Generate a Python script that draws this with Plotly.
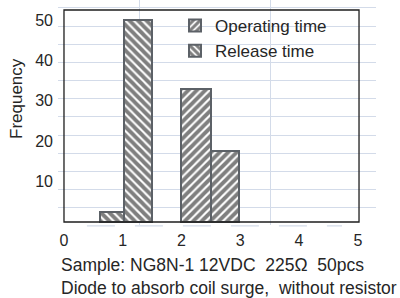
import plotly.graph_objects as go

# ---- data ----
release_x = [0.82, 1.26]          # bin centres (ms)
release_freq = [2.5, 50]
operating_x = [2.24, 2.74]
operating_freq = [33, 17.5]
x_ticks = [0, 1, 2, 3, 4, 5]
y_ticks = [10, 20, 30, 40, 50]
y_title = "Frequency"
note_lines = ["Sample: NG8N-1 12VDC\u00a0 225\u03a9\u00a0 50pcs",
              "Diode to absorb coil surge,\u00a0 without resistor"]

FONT = "Liberation Sans, Arial, sans-serif"
GRID = "#d3dbe9"
EDGE = "#5c6167"
TXT = "#262626"

PH = 225.0  # plot height in px (for paper-coordinate conversions)
PW = 318.0

def px_x(p):
    return (p - 58) / PW

def px_y(p):
    return 1 - p / PH

fig = go.Figure()
fig.add_trace(go.Bar(
    x=operating_x, y=operating_freq, width=[0.51, 0.49], name="Operating time",
    marker=dict(color="white", line=dict(color=EDGE, width=2),
                pattern=dict(shape="/", fgcolor="black", bgcolor="white",
                             size=6, solidity=0.64, fillmode="overlay")),
))
fig.add_trace(go.Bar(
    x=release_x, y=release_freq, width=[0.41, 0.48], name="Release time",
    marker=dict(color="white", line=dict(color=EDGE, width=2),
                pattern=dict(shape="\\", fgcolor="black", bgcolor="white",
                             size=6, solidity=0.64, fillmode="overlay")),
))

# white area behind the legend (hides the grid there, like the original)
fig.add_shape(type="rect", xref="paper", yref="paper",
              x0=px_x(190), x1=px_x(337), y0=px_y(57), y1=px_y(12),
              fillcolor="white", line=dict(width=0), layer="between")
# plot frame (box of the original chart)
fig.add_shape(type="rect", xref="x", yref="y", x0=0, x1=5.02, y0=0, y1=52.48,
              line=dict(color="#1e1e1e", width=1.3), layer="above")
# dashed light line under the axis, as in the scan
fig.add_shape(type="line", xref="x", yref="paper", x0=0.39, x1=4.73, y0=-0.004, y1=-0.004,
              line=dict(color=GRID, width=1.2, dash="28px,20px"), layer="below")

fig.update_layout(
    template="none",
    width=400, height=298,
    margin=dict(l=58, r=24, t=0, b=73),
    paper_bgcolor="white", plot_bgcolor="white",
    barmode="overlay", bargap=0,
    font=dict(family=FONT, size=16, color=TXT),
    showlegend=True,
    legend=dict(x=px_x(175), y=px_y(8), xanchor="left", yanchor="top",
                bgcolor="rgba(0,0,0,0)", borderwidth=0, font=dict(size=17, color=TXT),
                traceorder="normal", itemwidth=30, tracegroupgap=0),
    xaxis=dict(range=[-0.102, 5.309], tickmode="array", tickvals=x_ticks,
               ticktext=[str(v) for v in x_ticks], ticks="", showgrid=False,
               zeroline=False, showline=False, ticklabelstandoff=4,
               tickfont=dict(size=16, color=TXT),
               minor=dict(showgrid=True, tickmode="linear", tick0=1.293, dtick=2.229,
                          ticks="", gridcolor=GRID, gridwidth=1.2)),
    yaxis=dict(range=[-0.74, 54.95], tickmode="array", tickvals=y_ticks,
               ticks="", showgrid=False, zeroline=False, showline=False,
               tickfont=dict(size=16, color=TXT), ticklabelstandoff=4,
               minor=dict(showgrid=True, tickmode="linear", tick0=3.5, dtick=4.5,
                          ticks="", gridcolor=GRID, gridwidth=1.2)),
    annotations=[
        dict(text=y_title, textangle=-90, xref="paper", yref="paper",
             x=px_x(17), y=px_y(99), xanchor="center", yanchor="middle",
             showarrow=False, font=dict(size=17, color=TXT)),
        dict(text="<br>".join(note_lines), xref="paper", yref="paper",
             x=px_x(59), y=-0.125, xanchor="left", yanchor="top", align="left",
             showarrow=False, font=dict(size=17.5, color=TXT)),
    ],
)

fig.write_html("out.html", config={"displayModeBar": False},
               post_script="document.body.style.margin='0';document.body.style.padding='0';")
